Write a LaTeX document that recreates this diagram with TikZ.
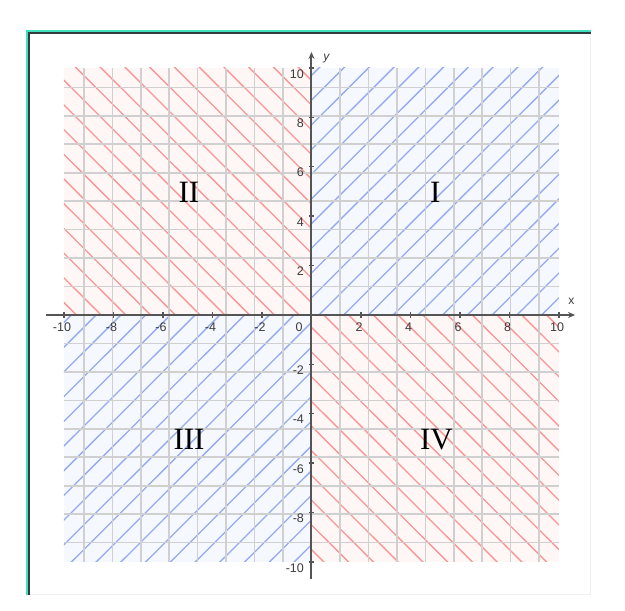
\documentclass[tikz,border=0pt]{standalone}
\usepackage{fontspec}
\setmainfont{Liberation Serif}
\setsansfont{Liberation Sans}
\usetikzlibrary{arrows.meta}
\definecolor{teal1}{RGB}{64,224,190}
\definecolor{darkframe}{RGB}{50,60,60}
\definecolor{hatchred}{RGB}{250,150,150}
\definecolor{hatchblue}{RGB}{150,170,240}
\definecolor{tintred}{RGB}{255,246,246}
\definecolor{tintblue}{RGB}{246,248,255}
\definecolor{gridgray}{RGB}{208,208,208}
\definecolor{axisgray}{RGB}{85,85,85}
\definecolor{labelgray}{RGB}{60,60,60}
\tikzset{
  hatchR/.style={draw=hatchred, line width=1.3pt},
  hatchB/.style={draw=hatchblue, line width=1.3pt},
  gridline/.style={draw=gridgray, line width=1.6pt},
  axisline/.style={draw=axisgray, line width=2pt},
  tickmark/.style={draw=axisgray, line width=1.4pt},
  xlab/.style={font=\sffamily\fontsize{12.5}{12.5}\selectfont, text=labelgray, anchor=north, inner sep=0pt},
  ylab/.style={font=\sffamily\fontsize{12.5}{12.5}\selectfont, text=labelgray, anchor=north east, inner sep=0pt},
  quadlab/.style={font=\fontsize{31}{31}\selectfont, text=black, inner sep=0pt},
  axname/.style={font=\sffamily\fontsize{12}{12}\selectfont, text=labelgray, inner sep=0pt}
}
\begin{document}
\begin{tikzpicture}[x=24.75pt,y=24.7pt]
\useasboundingbox (-12.586,-11.984) rectangle (12.667,12.753);
% frame
\draw[draw=gray!12, line width=1pt] (11.27,11.45) -- (11.27,-11.30) -- (-11.40,-11.30);
\draw[draw=darkframe, line width=2pt] (-11.394,-11.336) -- (-11.394,11.397) -- (11.293,11.397);
\draw[draw=teal1, line width=2pt] (-11.475,-11.336) -- (-11.475,11.478) -- (11.293,11.478);
% tints
\fill[tintblue] (0,0) rectangle (10,10);
\fill[tintblue] (-10,-10) rectangle (0,0);
\fill[tintred] (-10,0) rectangle (0,10);
\fill[tintred] (0,-10) rectangle (10,0);
% hatching
\begin{scope}
  \clip (0,0) rectangle (10,10);
  \foreach \i [evaluate=\i as \c using \i+0.3] in {-11,...,11}
    \draw[hatchB] (\c-11,-11) -- (\c+11,11);
\end{scope}
\begin{scope}
  \clip (-10,-10) rectangle (0,0);
  \foreach \i [evaluate=\i as \c using \i+0.3] in {-11,...,11}
    \draw[hatchB] (\c-11,-11) -- (\c+11,11);
\end{scope}
\begin{scope}
  \clip (-10,0) rectangle (0,10);
  \foreach \i [evaluate=\i as \c using \i+0.5] in {-11,...,11}
    \draw[hatchR] (\c-11,11) -- (\c+11,-11);
\end{scope}
\begin{scope}
  \clip (0,-10) rectangle (10,0);
  \foreach \i [evaluate=\i as \c using \i+0.5] in {-11,...,11}
    \draw[hatchR] (\c-11,11) -- (\c+11,-11);
\end{scope}
% grid
\draw[gridline] (-10,-10) grid (10,10);
% axes
\coordinate (xs) at (-10.73,0);
\coordinate (xe) at (10.65,0);
\coordinate (ys) at (0,-10.69);
\coordinate (ye) at (0,10.65);
\draw[axisline, -{Stealth[length=7pt,width=6pt]}] (xs) -- (xe);
\draw[axisline, -{Stealth[length=7pt,width=6pt]}] (ys) -- (ye);
\node[axname] (xname) at (10.5,0.55) {x};
\node[axname] (yname) at (0.6,10.4) {\itshape y};
% ticks and labels
\foreach \v in {-10,-8,-6,-4,-2,2,4,6,8,10} {
  \draw[tickmark] (\v,-0.12) -- (\v,0.12);
  \draw[tickmark] (-0.12,\v) -- (0.12,\v);
  \node[xlab] (xl\v) at (\v-0.08,-0.3) {\v};
  \node[ylab] (yl\v) at (-0.3,\v-0.05) {\v};
}
\node[ylab] (zero) at (-0.35,-0.3) {0};
% quadrant labels
\node[quadlab] (q1) at (5,4.95) {I};
\node[quadlab] (q2) at (-4.95,4.95) {II};
\node[quadlab] (q3) at (-4.95,-5.05) {III};
\node[quadlab] (q4) at (5.05,-5.05) {IV};
\end{tikzpicture}
\end{document}
